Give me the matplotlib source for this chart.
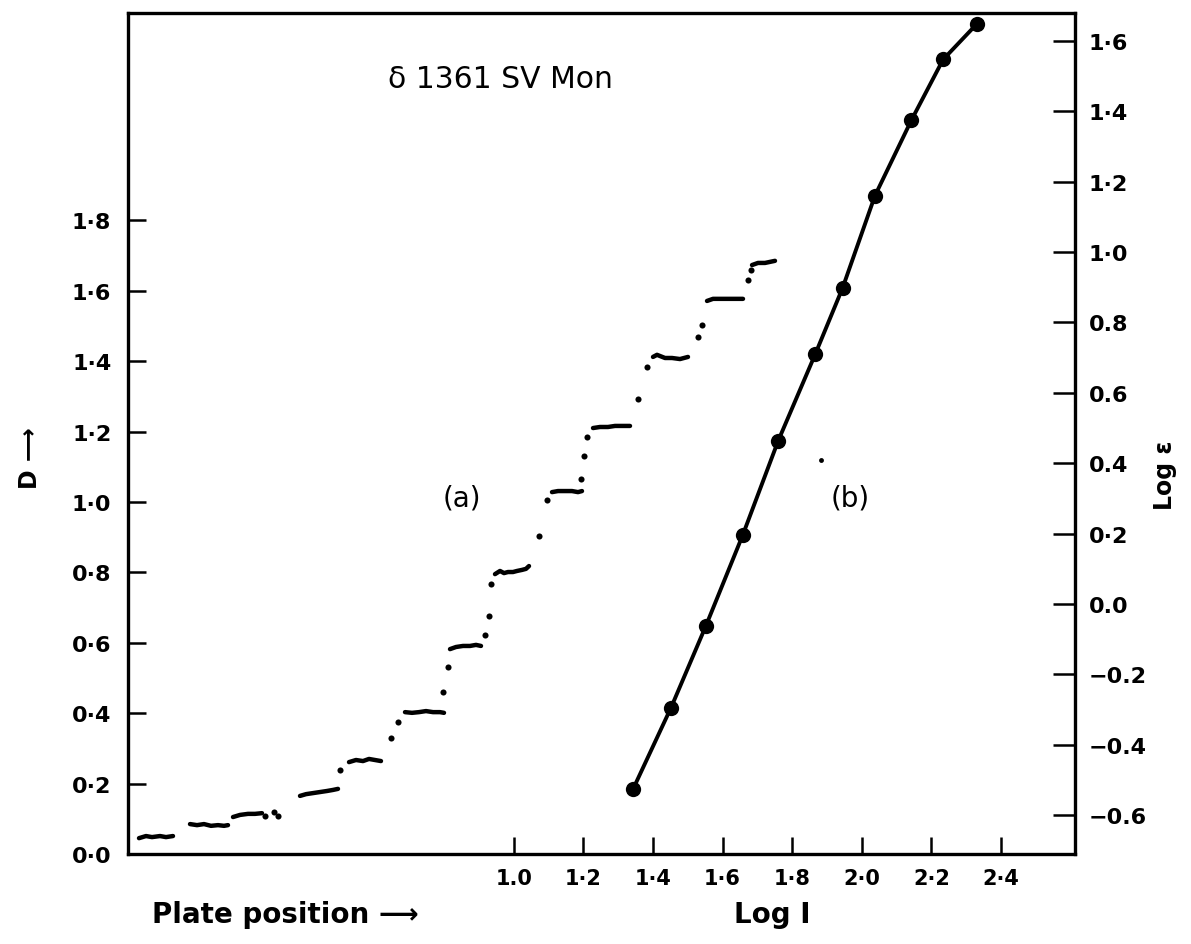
import matplotlib
matplotlib.use("Agg")
import matplotlib.pyplot as plt

plt.rcParams["font.family"] = ["DejaVu Sans"]

# (a) microdensitometer trace across the step wedge:
# plate position (mm, arbitrary zero) against density D.
# Each plateau is one step of the wedge.
plateau_pos = [
    [1.1, 1.8, 2.4, 3.2, 3.8, 4.5],
    [6.2, 6.9, 7.6, 8.3, 9.0, 9.6, 10.0],
    [10.5, 11.2, 12.0, 12.7, 13.4],
    [17.2, 17.8, 18.5, 19.2, 19.9, 20.5, 21.0],
    [22.1, 22.8, 23.5, 24.1, 24.7, 25.3],
    [27.7, 28.4, 29.1, 29.8, 30.5, 31.2, 31.6],
    [32.2, 32.8, 33.5, 34.2, 34.8, 35.3],
    [36.7, 37.2, 37.6, 38.0, 38.5, 38.9, 39.4, 39.8, 40.1],
    [42.4, 43.0, 43.7, 44.4, 45.0, 45.4],
    [46.5, 47.2, 48.0, 48.7, 49.4, 50.2],
    [52.5, 52.9, 53.7, 54.4, 55.2, 56.0],
    [57.9, 58.5, 59.2, 60.0, 60.8, 61.5],
    [62.4, 63.0, 63.7, 64.2, 64.7],
]
plateau_D = [
    [0.045, 0.051, 0.048, 0.051, 0.048, 0.051],
    [0.085, 0.082, 0.085, 0.080, 0.082, 0.080, 0.082],
    [0.105, 0.111, 0.114, 0.114, 0.116],
    [0.165, 0.170, 0.173, 0.176, 0.179, 0.182, 0.185],
    [0.261, 0.267, 0.264, 0.270, 0.267, 0.264],
    [0.403, 0.401, 0.403, 0.406, 0.403, 0.403, 0.401],
    [0.582, 0.588, 0.591, 0.591, 0.594, 0.591],
    [0.795, 0.804, 0.798, 0.801, 0.801, 0.804, 0.807, 0.810, 0.818],
    [1.028, 1.031, 1.031, 1.031, 1.028, 1.031],
    [1.210, 1.213, 1.213, 1.216, 1.216, 1.216],
    [1.412, 1.418, 1.409, 1.409, 1.406, 1.412],
    [1.571, 1.577, 1.577, 1.577, 1.577, 1.577],
    [1.673, 1.679, 1.679, 1.682, 1.685],
]
# single readings on the edges between steps
edge_pos = [13.7, 14.6, 15.0, 21.2, 26.3, 27.0, 31.5, 32.0, 35.7, 36.1,
            36.3, 41.1, 41.9, 45.3, 45.6, 45.9, 51.0, 51.9, 57.0, 57.4,
            62.0, 62.3]
edge_D = [0.108, 0.119, 0.108, 0.239, 0.330, 0.375, 0.460, 0.531, 0.622,
          0.676, 0.767, 0.903, 1.006, 1.065, 1.131, 1.185, 1.293, 1.384,
          1.469, 1.503, 1.631, 1.659]

# (b) characteristic curve: log I against log epsilon
log_I = [1.343, 1.452, 1.552, 1.658, 1.760, 1.866, 1.945, 2.038, 2.143,
         2.234, 2.330]
log_eps = [-0.525, -0.294, -0.062, 0.196, 0.464, 0.709, 0.898, 1.160,
           1.375, 1.547, 1.647]
# lone speck printed beside the curve
stray_I = [1.883]
stray_eps = [0.41]

D_ticks = [0.0, 0.2, 0.4, 0.6, 0.8, 1.0, 1.2, 1.4, 1.6, 1.8]
D_labels = ["0·0", "0·2", "0·4", "0·6", "0·8", "1·0", "1·2", "1·4", "1·6",
            "1·8"]
eps_ticks = [-0.6, -0.4, -0.2, 0.0, 0.2, 0.4, 0.6, 0.8, 1.0, 1.2, 1.4, 1.6]
eps_labels = ["−0.6", "−0.4", "−0.2", "0.0", "0·2", "0.4", "0.6", "0.8",
              "1·0", "1·2", "1·4", "1·6"]
logI_ticks = [1.0, 1.2, 1.4, 1.6, 1.8, 2.0, 2.2, 2.4]
logI_labels = ["1.0", "1·2", "1·4", "1·6", "1·8", "2·0", "2·2", "2·4"]

fig = plt.figure(figsize=(11.91, 9.45), dpi=100)
rect = [128 / 1191, 90 / 945, 947 / 1191, 841 / 945]

# --- panel (a): density trace on the plate-position axis
ax = fig.add_axes(rect)
for xs, ds in zip(plateau_pos, plateau_D):
    ax.plot(xs, ds, color="black", lw=3.2, solid_capstyle="round",
            solid_joinstyle="round")
ax.plot(edge_pos, edge_D, "o", color="black", ms=4.4, mec="none")
ax.set_xlim(0, 94.7)
ax.set_ylim(0, 2.389)
ax.set_xticks([])
ax.set_yticks(D_ticks)
ax.set_yticklabels(D_labels)
ax.tick_params(axis="y", direction="in", length=13, width=1.8, pad=12,
               labelsize=16)
for lab in ax.get_yticklabels():
    lab.set_fontweight("bold")
for sp in ax.spines.values():
    sp.set_linewidth(2.4)

# --- panel (b): characteristic curve, own axes sharing the frame
axb = fig.add_axes(rect, frameon=False)
axb.plot(log_I, log_eps, "-", color="black", lw=2.8)
axb.plot(log_I, log_eps, "o", color="black", ms=11, mec="none")
axb.plot(stray_I, stray_eps, "o", color="black", ms=3.5, mec="none")
axb.set_xlim(-0.109, 2.613)
axb.set_ylim(-0.710, 1.679)
axb.yaxis.tick_right()
axb.yaxis.set_label_position("right")
axb.set_yticks(eps_ticks)
axb.set_yticklabels(eps_labels)
axb.set_xticks(logI_ticks)
axb.set_xticklabels(logI_labels)
axb.tick_params(axis="y", direction="in", length=16, width=1.8, pad=10,
                labelsize=16)
axb.tick_params(axis="x", direction="in", length=12, width=1.8, pad=10,
                labelsize=15)
for lab in axb.get_yticklabels() + axb.get_xticklabels():
    lab.set_fontweight("bold")

# --- annotations
fig.text(388 / 1191, 1 - 80 / 945, "δ 1361 SV Mon", fontsize=21.5,
         va="center", ha="left")
fig.text(462 / 1191, 1 - 499 / 945, "(a)", fontsize=20, va="center",
         ha="center")
fig.text(850 / 1191, 1 - 499 / 945, "(b)", fontsize=20, va="center",
         ha="center")
fig.text(30 / 1191, 1 - 458 / 945, "D ⟶", fontsize=17, fontweight="bold",
         rotation=90, va="center", ha="center")
fig.text(1165 / 1191, 1 - 475 / 945, "Log ε", fontsize=17,
         fontweight="bold", rotation=90, va="center", ha="center")
fig.text(152 / 1191, 1 - 915 / 945, "Plate position ⟶", fontsize=20,
         fontweight="bold", va="center", ha="left")
fig.text(772 / 1191, 1 - 915 / 945, "Log I", fontsize=20,
         fontweight="bold", va="center", ha="center")

fig.savefig("out.png", dpi=100)
